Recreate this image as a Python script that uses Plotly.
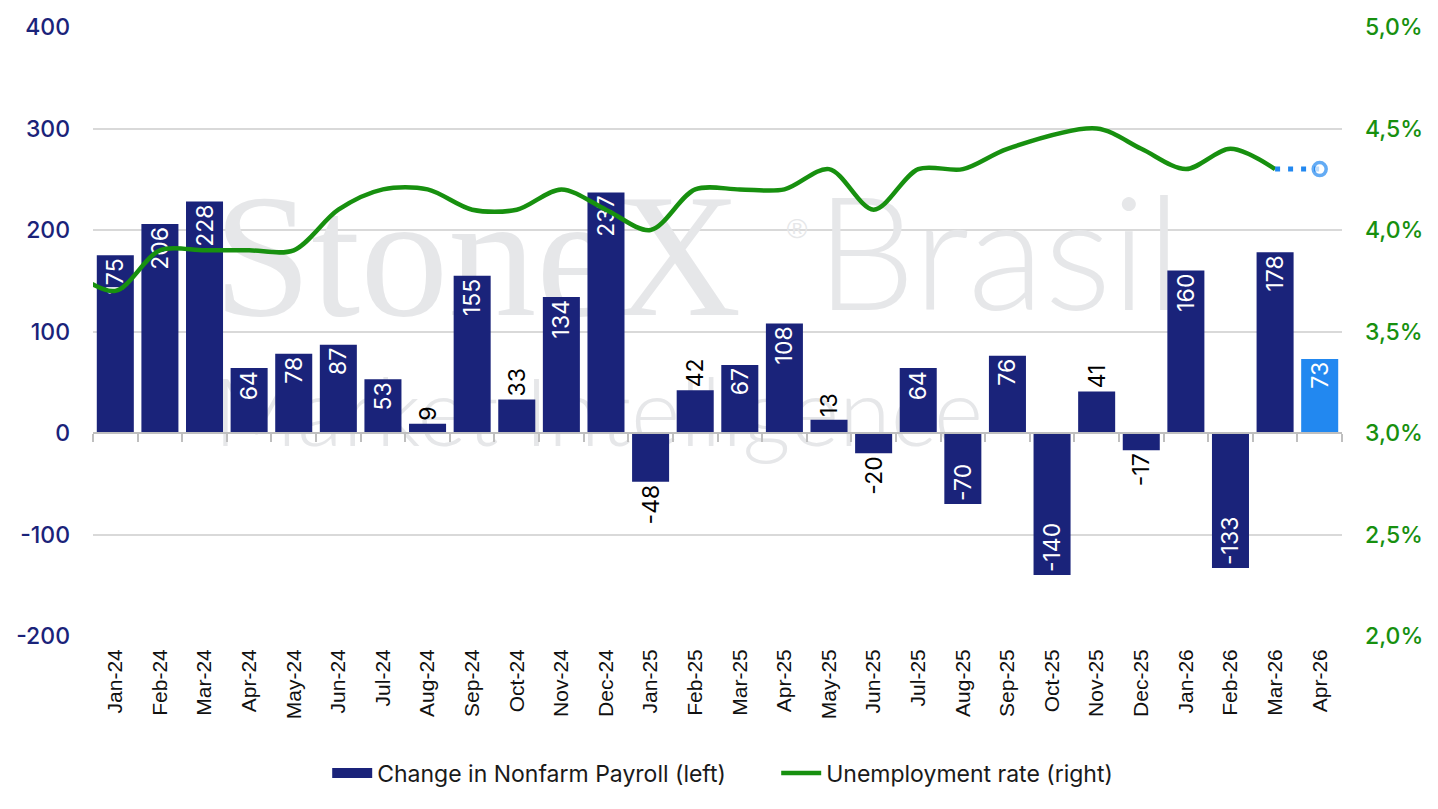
import plotly.graph_objects as go

# ---------------- data ----------------
months_all = ["Dec-23",
              "Jan-24", "Feb-24", "Mar-24", "Apr-24", "May-24", "Jun-24", "Jul-24", "Aug-24",
              "Sep-24", "Oct-24", "Nov-24", "Dec-24",
              "Jan-25", "Feb-25", "Mar-25", "Apr-25", "May-25", "Jun-25", "Jul-25", "Aug-25",
              "Sep-25", "Oct-25", "Nov-25", "Dec-25",
              "Jan-26", "Feb-26", "Mar-26", "Apr-26"]
shown_months = months_all[1:]

payroll = [175, 206, 228, 64, 78, 87, 53, 9, 155, 33, 134, 237,
           -48, 42, 67, 108, 13, -20, 64, -70, 76, -140, 41, -17,
           160, -133, 178, 73]

# unemployment rate (%), first value is Dec-23 (outside the visible range)
unemployment = [3.8,
                3.7, 3.9, 3.9, 3.9, 3.9, 4.1, 4.2, 4.2, 4.1, 4.1, 4.2, 4.1,
                4.0, 4.2, 4.2, 4.2, 4.3, 4.1, 4.3, 4.3, 4.4, None, 4.5, 4.4,
                4.3, 4.4, 4.3, None]
forecast_months = ["Mar-26", "Apr-26"]
forecast_rate = [4.3, 4.3]

left_ticks = [-200, -100, 0, 100, 200, 300, 400]
left_ticktext = ["-200", "-100", "0", "100", "200", "300", "400"]
right_ticks = [2.0, 2.5, 3.0, 3.5, 4.0, 4.5, 5.0]
right_ticktext = ["2,0%", "2,5%", "3,0%", "3,5%", "4,0%", "4,5%", "5,0%"]

# ---------------- styling ----------------
NAVY = "#1a237a"
LIGHT_BLUE = "#2288f0"
GREEN = "#17900f"
GRID = "#d9d9d9"
AXIS_GRAY = "#bfbfbf"
WM = "#e6e7e9"

pos = {m: i for i, m in enumerate(months_all)}
bar_x = [pos[m] for m in shown_months]
rate_x = [pos[m] for m in months_all]
fc_x = [pos[m] for m in forecast_months]

bar_colors = [NAVY] * (len(payroll) - 1) + [LIGHT_BLUE]
text_pos = ["inside" if abs(v) >= 50 else "outside" for v in payroll]
text_col = ["white" if p == "inside" else "black" for p in text_pos]

x_range = [0.5, len(months_all) - 0.5]

fig = go.Figure()

# watermark on the base subplot (beneath bars)
def wm(x, y, text, family, size, weight="normal"):
    fig.add_trace(go.Scatter(
        x=[x], y=[y], mode="text", text=[text], textposition="middle right",
        textfont=dict(family=family, size=size, color=WM, weight=weight),
        showlegend=False, hoverinfo="skip", xaxis="x", yaxis="y", cliponaxis=False))

wm(3.2, 0.60, "StoneX", "Liberation Serif", 176)
wm(16.7, 0.60, "Brasil", "Lato", 158, 300)
wm(3.2, 0.35, "Market Intelligence", "Lato", 94, 300)
wm(16.05, 0.665, "®", "Liberation Sans", 28)

fig.add_trace(go.Bar(
    x=bar_x, y=payroll, name="Change in Nonfarm Payroll (left)", showlegend=False,
    marker=dict(color=bar_colors, line=dict(width=0)),
    text=[str(v) for v in payroll], textposition=text_pos, textangle=-90,
    insidetextanchor="end", constraintext="none", cliponaxis=False,
    textfont=dict(family="Inter", size=23, color=text_col),
    xaxis="x", yaxis="y2", hoverinfo="skip"))

# legend entry for the bars (wide rectangular swatch)
fig.add_trace(go.Scatter(
    x=[None], y=[None], mode="lines", name="Change in Nonfarm Payroll (left)",
    line=dict(color=NAVY, width=13), xaxis="x", yaxis="y2", hoverinfo="skip"))

fig.add_trace(go.Scatter(
    x=rate_x, y=unemployment, name="Unemployment rate (right)",
    mode="lines", connectgaps=True,
    line=dict(color=GREEN, width=4.5, shape="spline", smoothing=0.9),
    xaxis="x", yaxis="y3", hoverinfo="skip"))

fig.add_trace(go.Scatter(
    x=fc_x, y=forecast_rate, mode="lines+markers", showlegend=False,
    line=dict(color=LIGHT_BLUE, width=5, dash="5px,8px"),
    marker=dict(size=[0, 13], color="white", line=dict(color=LIGHT_BLUE, width=3.5)),
    xaxis="x", yaxis="y3", hoverinfo="skip", cliponaxis=False))

# helper axis for the category axis line at zero
fig.add_trace(go.Scatter(x=[], y=[], xaxis="x2", yaxis="y2",
                         showlegend=False, hoverinfo="skip"))

fig.update_layout(
    width=1438, height=809,
    margin=dict(l=93, r=96, t=27, b=173),
    paper_bgcolor="white", plot_bgcolor="white",
    separators=",.",
    bargap=0.17,
    showlegend=True,
    legend=dict(orientation="h", x=0.547, xanchor="center", y=-0.225, yanchor="middle",
                font=dict(family="Inter", size=23, color="#1a1a1a"),
                itemwidth=40, entrywidth=394, tracegroupgap=0, traceorder="normal"),
    xaxis=dict(range=x_range, tickmode="array", tickvals=bar_x, ticktext=shown_months,
               tickangle=-90, showgrid=False, zeroline=False, showline=False, ticks="",
               tickfont=dict(family="Liberation Sans", size=21, color="#111111"),
               ticklabelstandoff=8),
    xaxis2=dict(range=x_range, overlaying="x", anchor="free", position=1/3,
                showgrid=False, zeroline=False, showline=True, linecolor=AXIS_GRAY,
                linewidth=2, ticks="outside", ticklen=8, tickwidth=2, tickcolor=AXIS_GRAY,
                tickmode="array", tickvals=[i + 0.5 for i in range(len(months_all))],
                showticklabels=False),
    yaxis=dict(range=[0, 1], visible=False, showgrid=False),
    yaxis2=dict(range=[-200, 400], overlaying="y", side="left",
                tickmode="array", tickvals=left_ticks, ticktext=left_ticktext,
                showgrid=True, gridcolor=GRID, gridwidth=2, zeroline=False,
                showline=False, ticks="",
                tickfont=dict(family="Inter", size=23, color=NAVY, weight=500),
                ticklabelstandoff=22),
    yaxis3=dict(range=[2.0, 5.0], overlaying="y", side="right",
                tickmode="array", tickvals=right_ticks, ticktext=right_ticktext,
                showgrid=False, zeroline=False, showline=False, ticks="",
                tickfont=dict(family="Inter", size=23, color=GREEN, weight=500),
                ticklabelstandoff=22),
)

fig.write_html("out.html")
